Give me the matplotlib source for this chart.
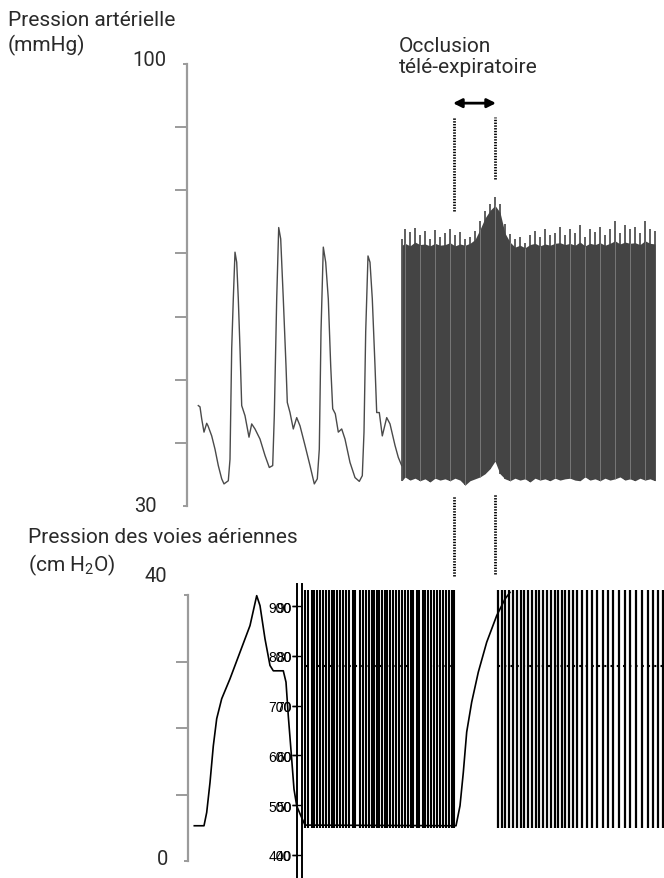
import matplotlib
matplotlib.use('Agg')
import matplotlib.pyplot as plt

plt.rcParams['font.family'] = ['Roboto', 'DejaVu Sans']
plt.rcParams['mathtext.fontset'] = 'custom'
plt.rcParams['mathtext.rm'] = 'Roboto'

# --- arterial pressure (mmHg), slow sweep: time (s) and value
art_t = [0.123, 0.14, 0.157, 0.18, 0.207, 0.22, 0.257, 0.29, 0.323, 0.357, 0.38, 0.423,
         0.44, 0.457, 0.473, 0.49, 0.507, 0.523, 0.54, 0.557, 0.59, 0.63, 0.657, 0.69,
         0.74, 0.79, 0.833, 0.867, 0.883, 0.907, 0.927, 0.947, 0.973, 1.0, 1.013, 1.04,
         1.073, 1.107, 1.14, 1.19, 1.24, 1.283, 1.313, 1.333, 1.35, 1.373, 1.397, 1.423,
         1.447, 1.467, 1.493, 1.523, 1.557, 1.59, 1.64, 1.69, 1.733, 1.763, 1.78, 1.797,
         1.82, 1.84, 1.863, 1.89, 1.907, 1.933, 1.963, 2.007, 2.04, 2.09, 2.123, 2.157]
art_p = [45.9, 45.7, 43.8, 41.7, 43.1, 42.7, 41.1, 39.0, 36.4, 34.3, 33.5, 34.0,
         37.4, 54.9, 62.8, 70.2, 68.6, 62.8, 54.9, 45.9, 44.3, 40.9, 43.0, 42.2,
         40.6, 38.0, 36.1, 36.4, 44.3, 62.8, 74.1, 72.3, 62.8, 52.2, 46.4, 44.8,
         42.2, 44.0, 42.7, 39.6, 36.4, 33.5, 34.3, 39.0, 57.6, 71.0, 68.6, 62.8,
         52.2, 45.4, 44.6, 41.7, 42.2, 40.6, 36.9, 34.5, 33.9, 34.8, 41.7, 57.6,
         69.6, 68.6, 62.8, 52.2, 44.8, 44.8, 41.1, 44.0, 43.0, 39.6, 37.7, 36.4]

# --- arterial pressure, compressed sweep (mmHg): systolic spikes, bulk top, diastolic floor
dense_t = [2.16, 2.19, 2.24, 2.29, 2.34, 2.39, 2.44, 2.49, 2.54, 2.59, 2.64, 2.69, 2.74,
           2.79, 2.84, 2.89, 2.94, 2.99, 3.04, 3.09, 3.14, 3.19, 3.24, 3.29, 3.34, 3.39,
           3.44, 3.49, 3.54, 3.59, 3.64, 3.69, 3.74, 3.79, 3.84, 3.89, 3.94, 3.99, 4.04,
           4.09, 4.14, 4.19, 4.24, 4.29, 4.34, 4.39, 4.44, 4.49, 4.54, 4.59, 4.64, 4.69]
dense_sys = [72.3, 73.9, 73.4, 74.0, 72.9, 73.6, 72.3, 73.7, 72.6, 73.2, 73.9, 72.9, 73.4,
             72.3, 72.6, 73.6, 75.1, 76.7, 77.8, 78.9, 77.8, 74.7, 73.1, 72.3, 72.6, 71.7,
             72.9, 73.6, 72.6, 73.9, 72.9, 73.2, 74.2, 72.9, 73.9, 73.2, 74.5, 72.6, 73.9,
             73.4, 74.2, 72.9, 73.9, 75.1, 73.2, 74.5, 73.9, 74.2, 73.2, 75.1, 73.9, 73.6]
dense_body = [71.3, 71.6, 71.2, 71.8, 71.4, 71.5, 71.2, 71.6, 71.3, 71.4, 71.7, 71.2, 71.5,
              71.3, 71.6, 72.2, 73.8, 75.6, 76.8, 77.6, 76.5, 73.2, 71.8, 71.0, 71.3, 70.9,
              71.4, 71.6, 71.2, 71.5, 71.3, 71.6, 71.7, 71.4, 71.6, 71.3, 71.8, 71.2, 71.6,
              71.4, 71.7, 71.3, 71.6, 72.0, 71.5, 71.8, 71.6, 71.7, 71.4, 72.0, 71.6, 71.5]
dense_dia = [34.0, 34.6, 34.1, 34.4, 34.0, 34.3, 33.8, 34.4, 34.1, 34.3, 34.0, 34.4, 34.1,
             33.3, 34.0, 34.3, 34.6, 35.1, 35.9, 37.1, 35.1, 34.3, 34.0, 34.4, 34.1, 34.3,
             33.8, 34.4, 34.1, 34.3, 34.0, 34.4, 34.1, 34.3, 34.4, 34.1, 34.0, 34.6, 34.1,
             34.3, 34.0, 34.4, 34.1, 34.3, 34.6, 34.1, 34.3, 34.0, 34.4, 34.1, 34.3, 34.0]

# --- airway pressure (cm H2O)
aw_t = [0.083, 0.18, 0.207, 0.24, 0.273, 0.307, 0.357, 0.44, 0.54, 0.64, 0.707, 0.74,
        0.79, 0.84, 0.873, 0.973, 1.0, 1.023, 1.057, 1.08, 1.107, 1.14, 1.19, 2.70,
        2.707, 2.74, 2.773, 2.807, 2.857, 2.923, 3.007, 3.107, 3.19, 3.24]
aw_p = [5.3, 5.3, 7.3, 11.8, 17.3, 21.4, 24.4, 27.4, 31.4, 35.4, 39.9, 38.4,
        33.4, 29.4, 28.6, 28.6, 26.9, 21.8, 15.3, 10.8, 8.3, 7.1, 5.4, 5.3,
        5.8, 8.3, 13.3, 19.4, 23.9, 28.4, 32.9, 36.9, 39.4, 40.4]

# ventilator cycles on the compressed sweep (time of each cycle, s)
vent_t_before = [1.19, 1.223, 1.257, 1.283, 1.313, 1.34, 1.373, 1.40, 1.427, 1.457, 1.483,
                 1.513, 1.54, 1.573, 1.60, 1.633, 1.667, 1.69, 1.74, 1.773, 1.80, 1.827,
                 1.857, 1.883, 1.907, 1.933, 1.96, 1.99, 2.013, 2.04, 2.073, 2.10, 2.127,
                 2.157, 2.19, 2.217, 2.247, 2.273, 2.307, 2.333, 2.367, 2.393, 2.423, 2.45,
                 2.48, 2.507, 2.54, 2.567, 2.597, 2.63, 2.663, 2.68]
vent_t_after = [3.123, 3.157, 3.19, 3.233, 3.273, 3.313, 3.347, 3.38, 3.423, 3.457, 3.50,
                3.533, 3.573, 3.607, 3.647, 3.69, 3.723, 3.757, 3.79, 3.833, 3.873, 3.907,
                3.957, 4.007, 4.057, 4.107, 4.167, 4.223, 4.273, 4.333, 4.39, 4.44, 4.50,
                4.557, 4.623, 4.673, 4.723, 4.773]
vent_peak = 40.8
vent_peep = 5.0
vent_plateau = 29.3

occlusion = [2.68, 3.09]

# overlaid monitor scale
mon_ticks = [400, 500, 600, 700, 800, 900]
mon_labels_a = ['400', '500', '600', '700', '800', '900']
mon_labels_b = ['40', '50', '60', '70', '80', '90']

W, H = 664, 879
GREY = '#9b9b9b'
TXT = '#2a2a2a'


def box(x0, y0, x1, y1):
    return [x0 / W, 1 - y1 / H, (x1 - x0) / W, (y1 - y0) / H]


def grey_axis(ax, lo, hi, minor):
    for s in ['top', 'right', 'bottom']:
        ax.spines[s].set_visible(False)
    ax.spines['left'].set_color(GREY)
    ax.spines['left'].set_linewidth(1.6)
    ax.spines['left'].set_bounds(lo, hi)
    ax.set_xticks([])
    ax.set_yticks([lo, hi])
    ax.set_yticks(minor, minor=True)
    ax.tick_params(axis='y', which='major', length=3, width=1.4, color=GREY, labelleft=False)
    ax.tick_params(axis='y', which='minor', length=9, width=1.4, color=GREY)
    ax.patch.set_alpha(0)


fig = plt.figure(figsize=(6.64, 8.79), dpi=100)

# top panel
ax1 = fig.add_axes(box(186.7, 65, 664, 507))
ax1.set_xlim(0.007, 4.78)
ax1.set_ylim(30, 100)
grey_axis(ax1, 30, 100, [40, 50, 60, 70, 80, 90])
ax1.plot(art_t, art_p, color='#4a4a4a', lw=1.0)
ax1.fill_between(dense_t, dense_dia, dense_body, color='#444444', lw=0)
ax1.vlines(dense_t, dense_dia, dense_sys, color='#444444', lw=1.2)
ax1.vlines(dense_t[1::3], dense_dia[1::3], dense_body[1::3], color='#8c8c8c', lw=0.5)

ax1.annotate('100', xy=(0, 100), xycoords=('axes fraction', 'data'), xytext=(-20, 5),
             textcoords='offset pixels', ha='right', va='center', fontsize=14.5, color=TXT)
ax1.annotate('30', xy=(0, 30), xycoords=('axes fraction', 'data'), xytext=(-30, 0),
             textcoords='offset pixels', ha='right', va='center', fontsize=14.5, color=TXT)

dot = (0, (0.5, 0.5))
ax1.vlines(occlusion[0], 76.7, 91.6, color='black', lw=2.0, linestyle=dot)
ax1.vlines(occlusion[1], 81.8, 91.6, color='black', lw=2.0, linestyle=dot)
ax1.vlines(occlusion[0], 18.9, 31.6, color='black', lw=2.0, linestyle=dot, clip_on=False)
ax1.vlines(occlusion[1], 19.2, 31.9, color='black', lw=2.0, linestyle=dot, clip_on=False)
ax1.annotate('', xy=(occlusion[0] - 0.01, 93.8), xytext=(occlusion[1] + 0.01, 93.8),
             arrowprops=dict(arrowstyle='<|-|>', color='black', lw=2.0, mutation_scale=13,
                             shrinkA=0, shrinkB=0))

# bottom panel
ax2 = fig.add_axes(box(188.3, 589.35, 664, 862))
ax2.set_xlim(0.023, 4.78)
ax2.set_ylim(0, 41)
grey_axis(ax2, 0, 40, [10, 20, 30])
ax2.vlines(vent_t_before, vent_peep, vent_peak, color='black', lw=1.5)
ax2.vlines(vent_t_after, vent_peep, vent_peak, color='black', lw=1.6)
ax2.hlines(vent_plateau, vent_t_before[0], vent_t_before[-1], color='black', lw=1.5,
           linestyle=(0, (1, 2)))
ax2.hlines(vent_plateau, vent_t_after[0], vent_t_after[-1], color='black', lw=1.5,
           linestyle=(0, (1, 2)))
ax2.plot(aw_t, aw_p, color='black', lw=1.2)
ax2.annotate('40', xy=(0, 40), xycoords=('axes fraction', 'data'), xytext=(-21, 19),
             textcoords='offset pixels', ha='right', va='center', fontsize=14.5, color=TXT)
ax2.annotate('0', xy=(0, 0), xycoords=('axes fraction', 'data'), xytext=(-20, 2),
             textcoords='offset pixels', ha='right', va='center', fontsize=14.5, color=TXT)

# overlaid monitor axes
for x0, labels, tlen in [(297.3, mon_labels_a, 3.6), (302.3, mon_labels_b, 7.2)]:
    axm = fig.add_axes(box(x0, 585, x0 + 0.5, 879))
    axm.set_ylim(353.8, 944.2)
    for s in ['top', 'right', 'bottom']:
        axm.spines[s].set_visible(False)
    axm.spines['left'].set_linewidth(1.4)
    axm.set_xticks([])
    axm.set_yticks(mon_ticks)
    axm.set_yticklabels(labels, fontsize=10, family='Liberation Sans')
    axm.tick_params(axis='y', length=tlen, width=1.0, pad=0.5)
    axm.patch.set_alpha(0)

# texts
fig.text(8 / W, 1 - 11 / H, 'Pression artérielle\n(mmHg)', fontsize=15, color=TXT,
         va='top', ha='left', linespacing=1.3)
fig.text(28 / W, 1 - 528 / H, 'Pression des voies aériennes\n(cm H$_\\mathregular{2}$O)',
         fontsize=15, color=TXT, va='top', ha='left', linespacing=1.3)
fig.text(399 / W, 1 - 37 / H, 'Occlusion\ntélé-expiratoire', fontsize=15, color=TXT,
         va='top', ha='left', linespacing=1.15)

fig.savefig('out.png', dpi=100)
